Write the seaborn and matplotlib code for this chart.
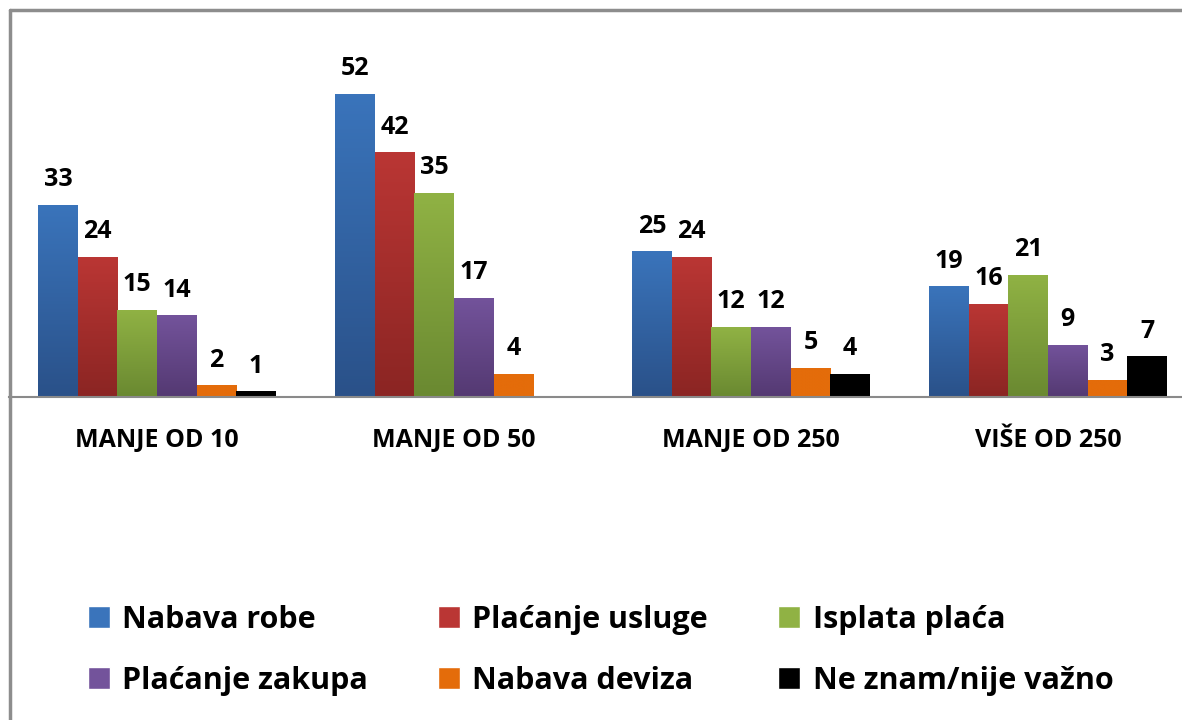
import numpy as np
import pandas as pd
import matplotlib
matplotlib.use("Agg")
import matplotlib.pyplot as plt
import seaborn as sns
from matplotlib.colors import to_rgb, LinearSegmentedColormap
from matplotlib.lines import Line2D

# ===== data =====
kategorije = ["MANJE OD 10", "MANJE OD 50", "MANJE OD 250", "VIŠE OD 250"]
serije = ["Nabava robe", "Plaćanje usluge", "Isplata plaća",
          "Plaćanje zakupa", "Nabava deviza", "Ne znam/nije važno"]
nabava_robe = [33, 52, 25, 19]
placanje_usluge = [24, 42, 24, 16]
isplata_placa = [15, 35, 12, 21]
placanje_zakupa = [14, 17, 12, 9]
nabava_deviza = [2, 4, 5, 3]
ne_znam = [1, 0, 4, 7]

# boje: (gore, dolje) za gradijent
boje = {
    "Nabava robe": ("#3a74bb", "#2a5189"),
    "Plaćanje usluge": ("#ba3634", "#8b2523"),
    "Isplata plaća": ("#90b244", "#6a8931"),
    "Plaćanje zakupa": ("#73539b", "#543972"),
    "Nabava deviza": ("#e46c0a", "#e46c0a"),
    "Ne znam/nije važno": ("#000000", "#000000"),
}

vrijednosti = [nabava_robe, placanje_usluge, isplata_placa,
               placanje_zakupa, nabava_deviza, ne_znam]
df = pd.DataFrame({
    "kategorija": kategorije * len(serije),
    "serija": sum([[s] * len(kategorije) for s in serije], []),
    "vrijednost": sum(vrijednosti, []),
})

# ===== crtanje =====
sns.set_style("white")
plt.rcParams["font.family"] = ["Open Sans", "DejaVu Sans"]
plt.rcParams["text.color"] = "black"
plt.rcParams["xtick.color"] = "black"

fig = plt.figure(figsize=(11.82, 7.2), dpi=100)
W, H = 1182, 720
ax = fig.add_axes([8.5 / W, 323 / H, 1188 / W, 350 / H])

paleta = {s: boje[s][0] for s in serije}
sns.barplot(data=df, x="kategorija", y="vrijednost", hue="serija",
            order=kategorije, hue_order=serije, palette=paleta,
            width=0.8, saturation=1, ax=ax, errorbar=None)

# gradijent na stupcima
for s, cont in zip(serije, ax.containers):
    gore, dolje = boje[s]
    cmap = LinearSegmentedColormap.from_list(s, [to_rgb(dolje), to_rgb(gore)])
    grad = np.linspace(0, 1, 100).reshape(-1, 1)
    for bar in cont:
        if bar.get_height() <= 0:
            continue
        x0, y0 = bar.get_x(), bar.get_y()
        im = ax.imshow(grad, cmap=cmap, origin="lower", aspect="auto",
                       extent=[x0, x0 + bar.get_width(), y0, y0 + bar.get_height()],
                       zorder=bar.get_zorder() + 0.1)
        im.set_clip_path(bar)
    oznake = [f"{v:g}" if v > 0 else "" for v in cont.datavalues]
    ax.bar_label(cont, labels=oznake, padding=9, fontsize=18,
                 fontweight="bold", color="black")

ax.set_xlim(-0.5, len(kategorije) - 0.5)
ax.set_ylim(0, 60)
ax.set_xlabel("")
ax.set_ylabel("")
ax.set_yticks([])
for sp in ["top", "right", "left"]:
    ax.spines[sp].set_visible(False)
ax.spines["bottom"].set_color("#8a8a8a")
ax.spines["bottom"].set_linewidth(1.5)

ax.set_xticks(range(len(kategorije)))
ax.set_xticklabels(kategorije, fontsize=18, fontweight="bold", color="black")
ax.set_xticks(np.arange(-0.5, len(kategorije)), minor=True)
ax.tick_params(axis="x", which="major", length=0, pad=22)
ax.tick_params(axis="x", which="minor", length=8, width=1.5,
               color="#8a8a8a", direction="out")
ax.set_facecolor("none")

# legenda (redom po retcima)
h, l = ax.get_legend_handles_labels()
ax.get_legend().remove()
red = [0, 3, 1, 4, 2, 5]
leg = fig.legend([h[i] for i in red], [l[i] for i in red], loc="upper left",
                 bbox_to_anchor=(88 / W, 1 - 605 / H),
                 ncol=3, frameon=False, prop={"weight": "bold", "size": 22},
                 handlelength=0.72, handleheight=0.72, handletextpad=0.4,
                 columnspacing=2.3, labelspacing=1.0, borderpad=0, borderaxespad=0)
for t in leg.get_texts():
    t.set_color("black")

# okvir grafikona (lijevo i gore)
fig.add_artist(Line2D([10 / W, 10 / W], [0, 1 - 10 / H], transform=fig.transFigure,
                      color="#8d8d8d", lw=2.5))
fig.add_artist(Line2D([10 / W, 1], [1 - 10 / H, 1 - 10 / H], transform=fig.transFigure,
                      color="#8d8d8d", lw=2.5))

fig.savefig("out.png", dpi=100)
